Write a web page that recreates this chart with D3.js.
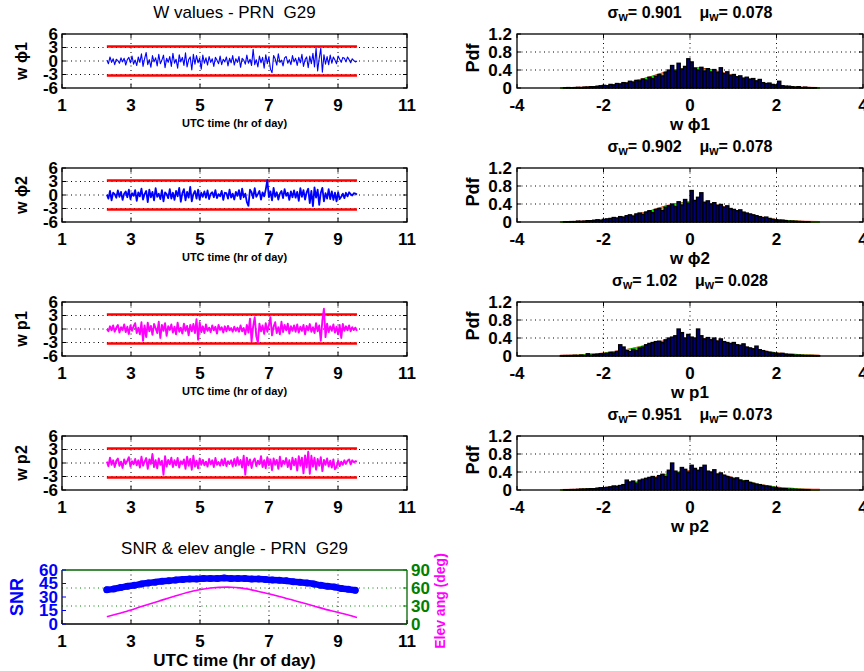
<!DOCTYPE html>
<html><head><meta charset="utf-8">
<script src="https://cdn.jsdelivr.net/npm/d3@7"></script>
<style>
body{margin:0;background:#fff}
svg{display:block}
text{font-family:"Liberation Sans",Arial,Helvetica,sans-serif;white-space:pre}
</style>
</head><body><svg id="c" width="864" height="671"></svg>
<script>
// ---------------- DATA ----------------
const timeStart = 2.3, timeEnd = 9.55;
const timeTicks = [1, 3, 5, 7, 9, 11];
const wTicks = [-6, -3, 0, 3, 6];
const thresholdHi = 3.25, thresholdLo = -3.2;

const wPhi1 = [0.2,-0.6,0.9,-0.3,0.5,-0.8,0.4,0.1,-0.5,0.7,-0.2,0.6,-0.9,0.3,0.8,-0.4,1.1,-0.7,0.2,-1.0,0.9,
-0.3,1.6,-1.2,0.5,1.9,-0.8,0.3,-1.4,1.2,-0.2,0.7,-1.1,1.5,-0.6,0.2,1.3,-1.5,0.6,-0.3,1.0,
-1.2,1.7,-0.5,0.4,-1.6,1.4,-0.2,0.8,-1.0,1.8,-1.3,0.3,0.9,-2.0,1.5,-0.7,1.2,-0.4,0.6,-1.8,
1.3,-0.5,0.7,-0.9,1.0,-0.3,0.5,-1.2,0.8,0.2,-0.6,1.1,-0.8,0.4,-0.2,0.9,-1.1,0.6,-0.4,1.2,
-0.9,0.5,-0.3,1.0,-1.4,0.6,0.2,-0.7,1.3,-0.5,0.4,-1.0,2.6,-0.8,0.3,-1.3,1.1,-0.4,0.8,-1.6,
1.4,-0.6,0.9,-1.8,-2.6,1.2,0.5,-0.9,1.6,-0.3,0.2,-1.1,0.7,1.0,-0.5,0.3,-0.8,1.2,-0.2,0.6,
-1.0,0.8,-0.4,1.5,-1.2,0.3,0.9,-1.5,1.1,-0.6,1.7,-1.3,2.9,-2.2,0.6,2.8,-2.5,1.4,-0.7,1.0,
-0.8,1.3,-0.5,0.9,0.2,-0.6,1.1,0.4,-0.3,0.8,0.6,-0.2,0.9,0.3,-0.4,0.5,0.1,-0.2,0.0];

const wPhi2 = [0.1,-0.8,0.9,-1.2,0.5,0.2,-0.6,1.0,-0.4,0.7,-1.1,0.3,0.8,-0.5,1.2,-0.9,0.4,-0.2,1.1,-1.3,0.6,
-0.3,1.4,-1.0,0.2,0.9,-1.6,1.2,-0.5,0.7,-1.2,1.5,-0.4,0.3,-0.9,1.1,-1.4,0.6,0.2,-0.7,1.3,
-0.8,0.5,-1.1,0.9,-0.3,1.6,-1.5,0.4,1.3,-1.2,0.7,-0.6,1.8,-1.4,0.2,0.9,-0.8,1.2,-1.0,0.5,
-0.4,0.8,-0.6,1.0,-0.9,0.3,0.6,-0.5,1.1,-0.7,0.2,-0.3,0.9,-1.1,0.5,0.4,-0.8,1.2,-0.6,0.3,
-1.0,0.7,-0.2,1.1,-0.9,1.4,-0.5,0.3,-1.6,-2.4,1.2,0.6,-0.7,1.5,-0.4,0.2,0.9,-1.0,0.6,-0.3,
1.2,3.3,-0.5,0.8,-1.2,1.6,-0.4,0.6,-1.0,0.3,0.9,-0.7,1.3,-0.2,0.5,-1.1,0.8,-0.5,1.0,-0.6,
0.7,-1.3,1.5,-0.4,1.1,-1.0,0.6,1.4,-1.8,0.9,-2.5,1.7,-0.6,1.2,-2.2,0.5,1.6,-1.4,0.4,-0.8,
1.3,-0.9,0.8,-1.1,0.5,-1.4,0.6,-0.9,-0.4,0.3,-0.7,0.5,-0.3,0.6,0.2,-0.1,0.4,0.3,0.1];

const wP1 = [0.0,-0.5,0.6,-0.3,0.8,-0.6,0.3,0.9,-0.8,0.4,-0.2,1.0,-0.7,0.5,-1.1,0.8,-0.4,0.6,1.3,-0.9,0.3,
-1.2,1.5,-2.6,0.8,-1.8,1.4,-0.5,0.7,-1.3,1.1,0.2,-0.9,1.6,-2.0,0.9,-0.4,1.3,-1.5,0.6,-0.2,
1.0,-0.8,0.5,-1.2,1.4,-0.6,0.3,-1.0,1.2,-0.4,0.7,-1.4,0.9,-0.5,1.1,-0.9,2.2,-2.4,1.5,-0.7,
0.6,-0.9,1.0,-0.4,0.3,-0.7,0.8,-0.3,0.5,-1.0,0.9,-0.2,0.4,-0.8,0.6,-0.5,0.7,-0.3,0.2,-0.6,
0.5,-0.4,0.3,-0.6,0.8,-0.5,0.2,-1.2,0.9,-0.8,2.3,-2.8,0.6,2.6,-1.6,-3.0,1.2,-0.5,0.8,-1.1,
1.3,-0.6,0.9,2.6,-1.4,0.5,1.5,-0.9,0.4,-1.2,1.6,-0.7,0.9,-0.3,1.2,-1.0,0.6,-0.4,0.8,-0.6,
1.0,-0.8,0.5,-0.4,0.9,-1.2,0.7,-0.3,1.1,-0.6,0.4,-0.9,1.3,-0.5,0.8,-2.6,1.9,4.5,-1.8,1.2,
-0.7,0.6,-0.4,1.0,-0.8,0.5,-1.2,0.9,-2.0,1.1,-0.4,0.6,-0.3,0.8,-0.5,0.4,-0.2,0.3,-0.4];

const wP2 = [0.3,-0.7,1.2,-0.4,0.6,-0.9,0.5,1.0,-0.6,0.3,-1.1,0.8,-0.2,0.5,1.3,-0.8,0.4,-0.3,0.9,-0.5,0.6,
-1.0,1.4,-0.6,0.3,1.1,-1.3,0.8,-0.2,2.0,-0.9,0.6,-1.2,1.0,-0.4,0.5,-2.6,1.5,-0.8,0.7,-0.3,
1.2,-0.9,0.6,-0.5,1.1,-1.0,0.4,-0.2,0.8,-1.3,1.4,-0.6,0.9,-1.5,1.6,-0.8,0.5,-1.2,1.0,-0.4,
0.7,-0.5,0.3,-0.8,0.9,-0.3,0.6,-0.9,1.1,-0.4,0.2,-0.6,0.8,-0.5,1.0,-0.7,0.4,-0.2,0.6,-0.8,
0.9,-0.6,1.3,-0.4,0.7,-1.0,1.6,-2.6,1.2,-0.5,0.8,-1.1,0.4,1.0,-0.7,0.5,-0.3,1.5,-0.9,0.6,
-1.2,1.3,-0.5,0.8,-1.6,1.0,-0.4,0.7,-1.3,1.4,-0.8,0.5,-0.2,1.1,-0.9,0.6,-1.4,1.2,-0.5,0.9,
-1.7,1.5,-0.6,1.2,-2.3,1.7,-1.0,2.5,-2.4,1.6,-0.8,1.2,-1.5,0.9,-0.6,1.3,-1.8,0.7,-0.4,1.0,
-0.8,0.5,-1.0,0.8,-1.4,-0.9,0.5,-0.7,0.3,-0.4,0.6,-0.2,0.5,0.8,-0.3,0.6,0.2,0.4,0.3];

// histogram: 80 bins from -3 to 3
const histStart = -3, histEnd = 3;
const histPhi1 = [0,0.005,0.01,0.005,0.01,0.015,0.01,0.02,0.02,0.03,
0.03,0.04,0.05,0.06,0.05,0.08,0.07,0.10,0.09,0.12,
0.11,0.15,0.13,0.17,0.16,0.20,0.18,0.24,0.21,0.26,
0.30,0.27,0.35,0.40,0.50,0.38,0.55,0.42,0.48,0.65,
0.58,0.44,0.40,0.46,0.38,0.43,0.36,0.41,0.35,0.45,
0.32,0.36,0.28,0.30,0.25,0.27,0.22,0.24,0.20,0.21,
0.16,0.19,0.12,0.10,0.11,0.08,0.07,0.15,0.05,0.04,
0.04,0.03,0.02,0.03,0.01,0.02,0.01,0.005,0.005,0];
const histPhi2 = [0,0.005,0.005,0.01,0.01,0.02,0.015,0.02,0.03,0.03,
0.04,0.05,0.04,0.06,0.07,0.08,0.10,0.09,0.12,0.11,
0.14,0.16,0.13,0.18,0.20,0.17,0.22,0.25,0.21,0.28,
0.30,0.26,0.33,0.36,0.40,0.35,0.45,0.38,0.50,0.42,
0.70,0.48,0.55,0.65,0.44,0.47,0.40,0.43,0.37,0.39,
0.33,0.36,0.30,0.28,0.25,0.27,0.22,0.20,0.18,0.16,
0.14,0.12,0.10,0.11,0.08,0.06,0.05,0.04,0.04,0.03,
0.02,0.02,0.015,0.01,0.01,0.005,0.005,0,0,0];
const histP1 = [0.005,0.01,0.01,0.01,0.015,0.01,0.02,0.01,0.05,0.02,
0.03,0.04,0.05,0.05,0.06,0.08,0.07,0.10,0.25,0.20,
0.12,0.10,0.15,0.13,0.18,0.20,0.25,0.28,0.30,0.32,
0.33,0.30,0.36,0.40,0.42,0.45,0.60,0.52,0.40,0.48,
0.42,0.40,0.60,0.45,0.38,0.41,0.36,0.40,0.33,0.38,
0.32,0.30,0.28,0.30,0.25,0.24,0.27,0.20,0.18,0.16,
0.22,0.14,0.12,0.10,0.08,0.07,0.06,0.05,0.06,0.04,
0.03,0.03,0.02,0.02,0.015,0.01,0.01,0.01,0.005,0.005];
const histP2 = [0,0.005,0.005,0.01,0.01,0.015,0.02,0.02,0.025,0.03,
0.03,0.04,0.05,0.05,0.06,0.07,0.09,0.08,0.10,0.12,
0.22,0.18,0.20,0.15,0.22,0.24,0.26,0.28,0.30,0.27,
0.32,0.35,0.30,0.44,0.60,0.42,0.38,0.50,0.46,0.40,
0.55,0.48,0.44,0.50,0.55,0.42,0.40,0.45,0.35,0.38,
0.33,0.30,0.28,0.25,0.27,0.22,0.20,0.21,0.17,0.15,
0.13,0.12,0.10,0.09,0.08,0.06,0.05,0.04,0.03,0.03,
0.02,0.02,0.015,0.01,0.01,0.005,0.005,0,0,0];

// fitted pdf curves, read at x = -3 ... 3 step 0.5
const pdfX = [-3,-2.5,-2,-1.5,-1,-0.5,0,0.5,1,1.5,2,2.5,3];
const pdfPhi1 = [0.001,0.007,0.031,0.096,0.217,0.360,0.441,0.397,0.262,0.127,0.046,0.012,0.002];
const pdfPhi2 = [0.001,0.007,0.031,0.096,0.217,0.360,0.440,0.397,0.262,0.127,0.046,0.012,0.002];
const pdfP1   = [0.005,0.018,0.054,0.127,0.235,0.342,0.391,0.351,0.248,0.138,0.060,0.021,0.006];
const pdfP2   = [0.002,0.011,0.039,0.107,0.222,0.350,0.418,0.379,0.261,0.136,0.054,0.016,0.004];

const sigmaVals = ["0.901","0.902","1.02","0.951"];
const muVals = ["0.078","0.078","0.028","0.073"];
const histTicksX = [-4,-2,0,2,4];
const histTicksY = [0,0.4,0.8,1.2];

// SNR & elevation
const snrT = [2.3,2.5,2.7,2.9,3.1,3.3,3.5,3.7,3.9,4.1,4.3,4.5,4.7,4.9,5.1,5.3,5.5,5.7,5.9,6.1,6.3,6.5,6.7,6.9,7.1,7.3,7.5,7.7,7.9,8.1,8.3,8.5,8.7,8.9,9.1,9.3,9.5];
const snrV = [38,39,40.5,42,43,44.5,45.5,46.5,47.5,48,49,49.5,50,50,50.5,50.5,50.5,51,50.5,50.5,50.5,50,50,49.5,49,48.5,48,47,46.5,45.5,44.5,43,42,41,39.5,38.5,37.5];
const elevT = [2.3,2.8,3.3,3.8,4.3,4.8,5.3,5.8,6.3,6.8,7.3,7.8,8.3,8.8,9.3,9.55];
const elevV = [12,20,29,38,47,55,60,61.5,59,53,46,38,30,22,15,11];
const snrTicks = [0,15,30,45,60];
const elevTicks = [0,30,60,90];

// ---------------- LAYOUT ----------------
const svg = d3.select("#c");
const LX = [62,407], RX = [517,863];
const TOPS = [34,168,302,436,570], H = 54;
const DOT = "1,3.5";

function txt(g, x, y, s, opts = {}) {
  const t = g.append("text").attr("x", x).attr("y", y).text(s)
    .attr("font-size", opts.size || 16)
    .attr("font-weight", opts.weight || "bold")
    .attr("fill", opts.color || "#000")
    .attr("text-anchor", opts.anchor || "middle")
    .attr("dominant-baseline", "central");
  if (opts.rotate) t.attr("transform", `rotate(-90,${x},${y})`);
  return t;
}

// ----- time-series panels -----
const series = [
  {v:wPhi1, color:"#0000ff", lw:1.1, lab:"w \u03d51", xlab:true},
  {v:wPhi2, color:"#0000ff", lw:1.8, lab:"w \u03d52", xlab:true},
  {v:wP1, color:"#ff00ff", lw:1.9, lab:"w p1", xlab:true},
  {v:wP2, color:"#ff00ff", lw:1.9, lab:"w p2", xlab:false}
];
series.forEach((s, i) => {
  const top = TOPS[i], bot = top + H;
  const g = svg.append("g");
  const x = d3.scaleLinear().domain([1,11]).range(LX);
  const y = d3.scaleLinear().domain([-6,6]).range([bot, top]);
  [3,5,7,9].forEach(v => g.append("line").attr("x1",x(v)).attr("x2",x(v)).attr("y1",top).attr("y2",bot)
    .attr("stroke","#000").attr("stroke-dasharray",DOT));
  [-3,0,3].forEach(v => g.append("line").attr("x1",LX[0]).attr("x2",LX[1]).attr("y1",y(v)).attr("y2",y(v))
    .attr("stroke","#000").attr("stroke-dasharray",DOT));
  [thresholdHi, thresholdLo].forEach(v => g.append("line")
    .attr("x1",x(timeStart)).attr("x2",x(timeEnd)).attr("y1",y(v)).attr("y2",y(v))
    .attr("stroke","#ff0000").attr("stroke-width",2.5));
  const n = s.v.length;
  const line = d3.line().x((d,k) => x(timeStart + k*(timeEnd-timeStart)/(n-1))).y(d => y(d));
  g.append("path").datum(s.v).attr("d", line).attr("fill","none")
    .attr("stroke", s.color).attr("stroke-width", s.lw).attr("stroke-linejoin","round");
  g.append("rect").attr("x",LX[0]).attr("y",top).attr("width",LX[1]-LX[0]).attr("height",H)
    .attr("fill","none").attr("stroke","#000").attr("stroke-width",1.3);
  timeTicks.forEach(v => {
    g.append("line").attr("x1",x(v)).attr("x2",x(v)).attr("y1",bot).attr("y2",bot-4).attr("stroke","#000");
    g.append("line").attr("x1",x(v)).attr("x2",x(v)).attr("y1",top).attr("y2",top+4).attr("stroke","#000");
    txt(g, x(v), bot+17, String(v), {size:17});
  });
  wTicks.forEach(v => {
    g.append("line").attr("x1",LX[0]).attr("x2",LX[0]+4).attr("y1",y(v)).attr("y2",y(v)).attr("stroke","#000");
    g.append("line").attr("x1",LX[1]).attr("x2",LX[1]-4).attr("y1",y(v)).attr("y2",y(v)).attr("stroke","#000");
    txt(g, 58, y(v), String(v), {anchor:"end", size:17});
  });
  txt(g, 21, (top+bot)/2, s.lab, {rotate:true, size:16});
  if (s.xlab) txt(g, (LX[0]+LX[1])/2, bot+35, "UTC time (hr of day)", {size:11});
});
txt(svg, (LX[0]+LX[1])/2, 12, "W values - PRN  G29", {size:17, weight:"normal"});

// ----- histogram panels -----
const hists = [
  {h:histPhi1, pdf:pdfPhi1, lab:"w \u03d51"},
  {h:histPhi2, pdf:pdfPhi2, lab:"w \u03d52"},
  {h:histP1, pdf:pdfP1, lab:"w p1"},
  {h:histP2, pdf:pdfP2, lab:"w p2"}
];
hists.forEach((s, i) => {
  const top = TOPS[i], bot = top + H;
  const g = svg.append("g");
  const x = d3.scaleLinear().domain([-4,4]).range(RX);
  const y = d3.scaleLinear().domain([0,1.2]).range([bot, top]);
  [-2,0,2].forEach(v => g.append("line").attr("x1",x(v)).attr("x2",x(v)).attr("y1",top).attr("y2",bot)
    .attr("stroke","#000").attr("stroke-dasharray",DOT));
  [0.4,0.8].forEach(v => g.append("line").attr("x1",RX[0]).attr("x2",RX[1]).attr("y1",y(v)).attr("y2",y(v))
    .attr("stroke","#000").attr("stroke-dasharray",DOT));
  const n = s.h.length, bw = (histEnd-histStart)/n;
  const pl = d3.line().x((d,k)=>x(pdfX[k])).y(d=>y(d)).curve(d3.curveCatmullRom);
  g.append("path").datum(s.pdf).attr("d",pl).attr("fill","none").attr("stroke","#ff0000").attr("stroke-width",2);
  g.append("path").datum(s.pdf.map(v=>v*0.985)).attr("d",pl).attr("fill","none").attr("stroke","#00ff00").attr("stroke-width",1.5);
  g.selectAll("rect.bar").data(s.h).enter().append("rect")
    .attr("x",(d,k)=>x(histStart+k*bw)).attr("width",(d,k)=>x(histStart+(k+1)*bw)-x(histStart+k*bw))
    .attr("y",d=>y(d)).attr("height",d=>bot-y(d))
    .attr("fill","#000070").attr("stroke","#000").attr("stroke-width",1.3);
  g.append("rect").attr("x",RX[0]).attr("y",top).attr("width",RX[1]-RX[0]).attr("height",H)
    .attr("fill","none").attr("stroke","#000").attr("stroke-width",1.3);
  histTicksX.forEach(v => {
    g.append("line").attr("x1",x(v)).attr("x2",x(v)).attr("y1",bot).attr("y2",bot-4).attr("stroke","#000");
    g.append("line").attr("x1",x(v)).attr("x2",x(v)).attr("y1",top).attr("y2",top+4).attr("stroke","#000");
    txt(g, x(v), bot+17, String(v), {size:17});
  });
  histTicksY.forEach(v => {
    g.append("line").attr("x1",RX[0]).attr("x2",RX[0]+4).attr("y1",y(v)).attr("y2",y(v)).attr("stroke","#000");
    g.append("line").attr("x1",RX[1]).attr("x2",RX[1]-4).attr("y1",y(v)).attr("y2",y(v)).attr("stroke","#000");
    txt(g, 512, y(v), String(v), {anchor:"end", size:17});
  });
  txt(g, 473, (top+bot)/2 - 3, "Pdf", {rotate:true, size:18});
  txt(g, 690, bot+36, s.lab, {size:17});
  const t = g.append("text").attr("x",690).attr("y",top-22).attr("text-anchor","middle")
    .attr("dominant-baseline","central").attr("font-size",16).attr("font-weight","bold");
  t.append("tspan").text("\u03c3");
  t.append("tspan").text("w").attr("dy",5).attr("font-size",12);
  t.append("tspan").text("= " + sigmaVals[i] + "    \u03bc").attr("dy",-5);
  t.append("tspan").text("w").attr("dy",5).attr("font-size",12);
  t.append("tspan").text("= " + muVals[i]).attr("dy",-5);
});

// ----- SNR & elevation panel -----
(function(){
  const top = TOPS[4], bot = top + H;
  const g = svg.append("g");
  const x = d3.scaleLinear().domain([1,11]).range(LX);
  const yS = d3.scaleLinear().domain([0,60]).range([bot, top]);
  const yE = d3.scaleLinear().domain([0,90]).range([bot, top]);
  [3,5,7,9].forEach(v => g.append("line").attr("x1",x(v)).attr("x2",x(v)).attr("y1",top).attr("y2",bot)
    .attr("stroke","#000").attr("stroke-dasharray",DOT));
  [30,60].forEach(v => g.append("line").attr("x1",LX[0]).attr("x2",LX[1]).attr("y1",yE(v)).attr("y2",yE(v))
    .attr("stroke","#008000").attr("stroke-dasharray",DOT));
  const sl = d3.line().x((d,k)=>x(snrT[k])).y(d=>yS(d)).curve(d3.curveMonotoneX);
  g.append("path").datum(snrV).attr("d",sl).attr("fill","none").attr("stroke","#0000ff")
    .attr("stroke-width",6.5).attr("stroke-linecap","round");
  g.selectAll("circle.snr").data(snrV).enter().append("circle")
    .attr("cx",(d,k)=>x(snrT[k])).attr("cy",d=>yS(d)).attr("r",3.5).attr("fill","#0000ff");
  const el = d3.line().x((d,k)=>x(elevT[k])).y(d=>yE(d)).curve(d3.curveMonotoneX);
  g.append("path").datum(elevV).attr("d",el).attr("fill","none").attr("stroke","#ff00ff").attr("stroke-width",1.6);
  g.append("line").attr("x1",LX[0]).attr("x2",LX[1]).attr("y1",bot).attr("y2",bot).attr("stroke","#000").attr("stroke-width",1.3);
  g.append("line").attr("x1",LX[0]).attr("x2",LX[0]).attr("y1",top).attr("y2",bot).attr("stroke","#000").attr("stroke-width",1.3);
  g.append("line").attr("x1",LX[0]).attr("x2",LX[1]).attr("y1",top).attr("y2",top).attr("stroke","#006400").attr("stroke-width",1.3);
  g.append("line").attr("x1",LX[1]).attr("x2",LX[1]).attr("y1",top).attr("y2",bot).attr("stroke","#006400").attr("stroke-width",1.3);
  timeTicks.forEach(v => {
    g.append("line").attr("x1",x(v)).attr("x2",x(v)).attr("y1",bot).attr("y2",bot-4).attr("stroke","#000");
    txt(g, x(v), bot+17, String(v), {size:17});
  });
  snrTicks.forEach(v => {
    g.append("line").attr("x1",LX[0]).attr("x2",LX[0]+4).attr("y1",yS(v)).attr("y2",yS(v)).attr("stroke","#0000ff");
    txt(g, 58, yS(v), String(v), {anchor:"end", color:"#0000ff", size:17});
  });
  elevTicks.forEach(v => {
    g.append("line").attr("x1",LX[1]).attr("x2",LX[1]-4).attr("y1",yE(v)).attr("y2",yE(v)).attr("stroke","#008000");
    txt(g, 411, yE(v), String(v), {anchor:"start", color:"#008000", size:17});
  });
  txt(g, 17, (top+bot)/2, "SNR", {rotate:true, size:18, color:"#0000ff"});
  txt(g, 440, (top+bot)/2+4, "Elev ang (deg)", {rotate:true, size:14, color:"#ff00ff"});
  txt(g, (LX[0]+LX[1])/2, bot+36, "UTC time (hr of day)", {size:17});
  txt(g, (LX[0]+LX[1])/2, top-22, "SNR & elev angle - PRN  G29", {size:17, weight:"normal"});
})();
</script>
</body></html>
